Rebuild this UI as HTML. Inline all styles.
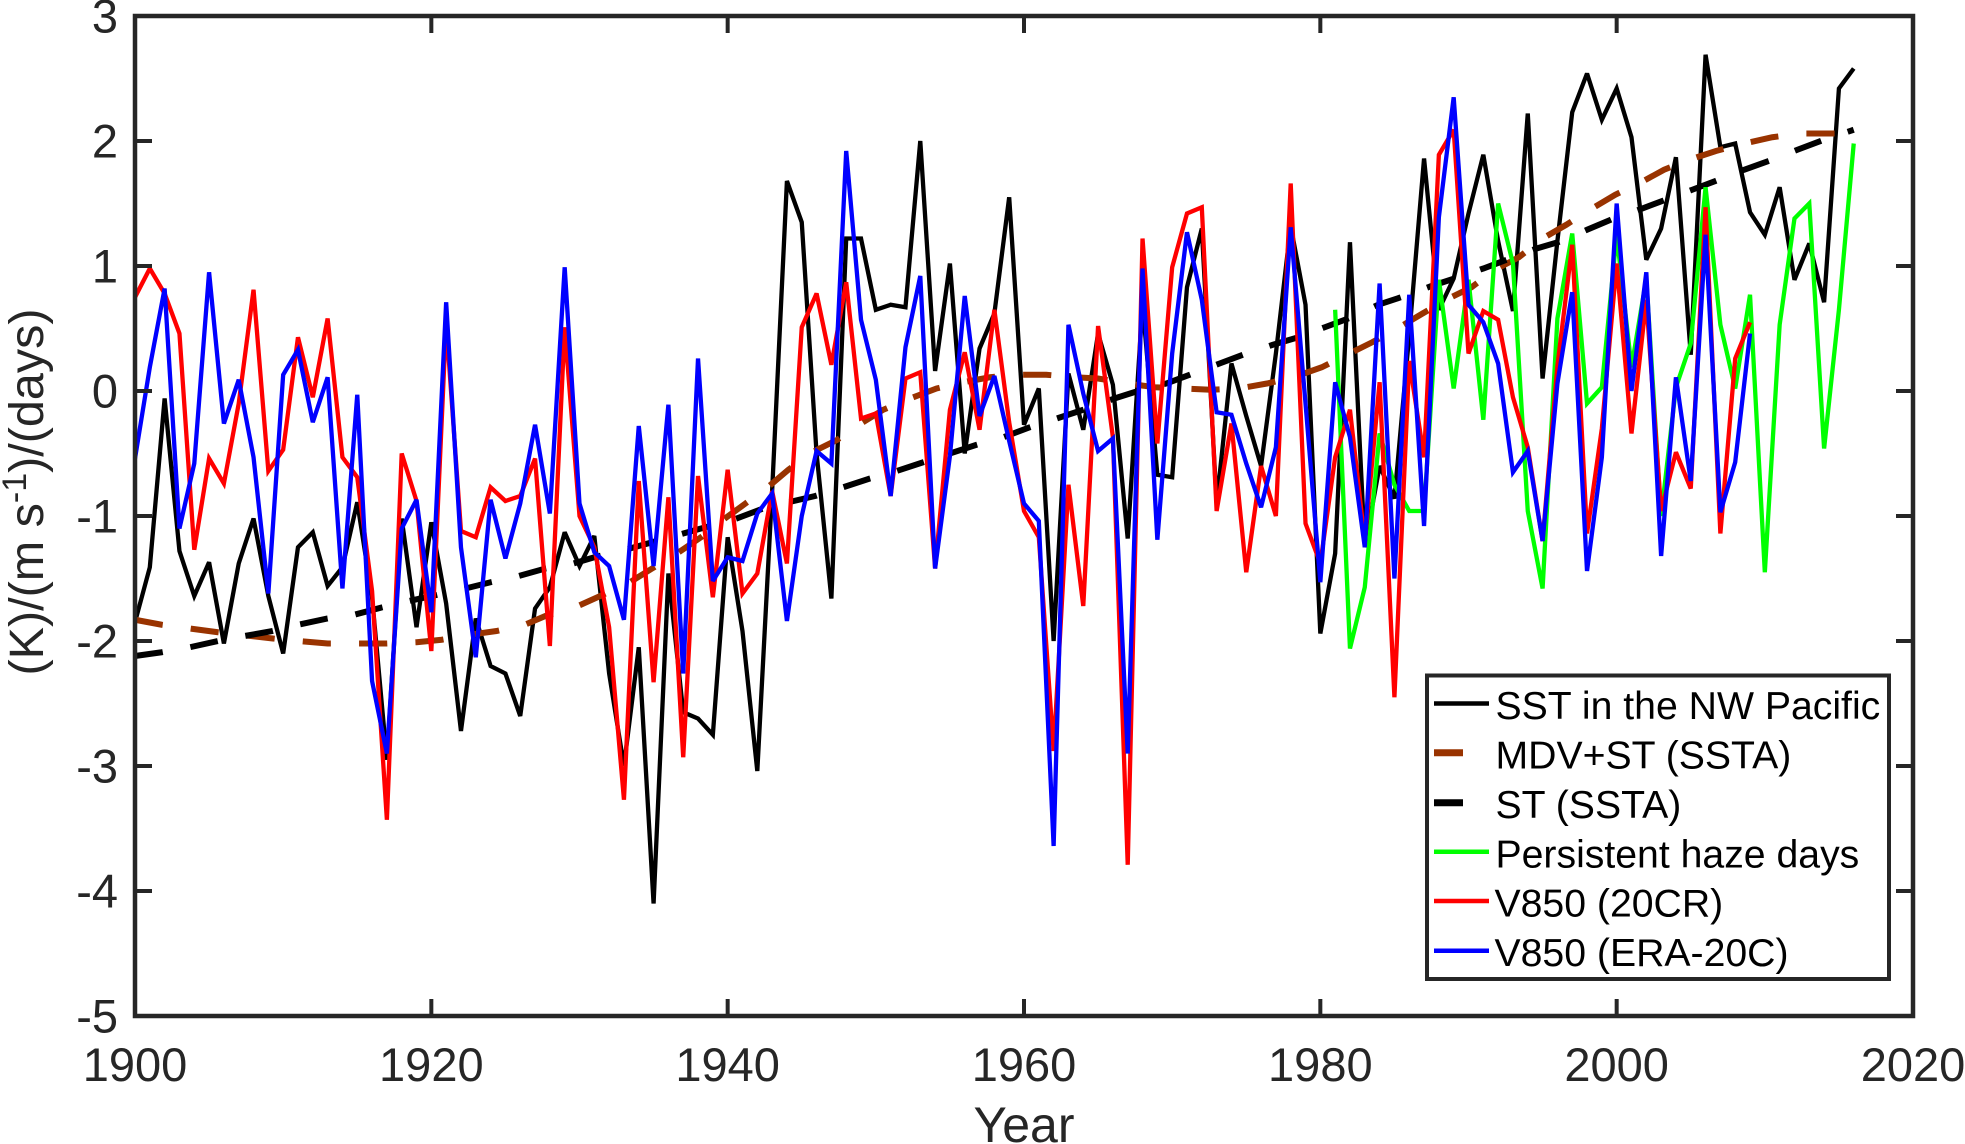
<!DOCTYPE html>
<html lang="en">
<head>
<meta charset="utf-8">
<title>SST, haze days and V850 time series</title>
<style>
html,body{margin:0;padding:0;background:#fff;}
body{width:1965px;height:1144px;overflow:hidden;}
svg{display:block;font-family:"Liberation Sans",Arial,sans-serif;}
</style>
</head>
<body>
<svg id="chart" width="1965" height="1144" viewBox="0 0 1965 1144" xmlns="http://www.w3.org/2000/svg">
  <g id="marks"></g>
  <rect x="135" y="16" width="1778" height="1000" fill="none" stroke="#262626" stroke-width="4.5"/>
  <g id="ticks"></g>
  <text x="1024" y="1142" font-size="50" fill="#262626" text-anchor="middle">Year</text>
  <text transform="translate(43,492) rotate(-90)" font-size="48.5" fill="#262626" text-anchor="middle">(K)/(m s<tspan font-size="34" dy="-17">-1</tspan><tspan dy="17">)/(days)</tspan></text>
  <g>
    <rect x="1427" y="675.5" width="462" height="303.5" fill="#fff" stroke="#262626" stroke-width="4"/>
    <line x1="1434" x2="1489" y1="703.5" y2="703.5" stroke="#000" stroke-width="4.5"/>
    <text x="1495.5" y="719" font-size="39.2" fill="#000">SST in the NW Pacific</text>
    <line x1="1434" x2="1463" y1="752.7" y2="752.7" stroke="#993300" stroke-width="7"/>
    <text x="1495.5" y="768.5" font-size="39.2" fill="#000">MDV+ST (SSTA)</text>
    <line x1="1434" x2="1463" y1="802.7" y2="802.7" stroke="#000" stroke-width="7"/>
    <text x="1495.5" y="818" font-size="39.2" fill="#000">ST (SSTA)</text>
    <line x1="1434" x2="1489" y1="851.7" y2="851.7" stroke="#00ff00" stroke-width="4.5"/>
    <text x="1495.5" y="867.4" font-size="39.2" fill="#000">Persistent haze days</text>
    <line x1="1434" x2="1489" y1="901" y2="901" stroke="#ff0000" stroke-width="4.5"/>
    <text x="1494.5" y="916.7" font-size="39.2" fill="#000">V850 (20CR)</text>
    <line x1="1434" x2="1489" y1="950.7" y2="950.7" stroke="#0000ff" stroke-width="4.5"/>
    <text x="1494.5" y="966" font-size="39.2" fill="#000">V850 (ERA-20C)</text>
  </g>
</svg>
<script>
const xTickLabels = [1900, 1920, 1940, 1960, 1980, 2000, 2020];
const yTickLabels = [3, 2, 1, 0, -1, -2, -3, -4, -5];

const sstStartYear = 1900;
const sstValues = [
  -1.85,-1.41,-0.06,-1.28,-1.64,-1.37,-2.02,-1.38,-1.02,-1.64,
  -2.10,-1.25,-1.13,-1.56,-1.41,-0.89,-1.65,-2.95,-1.02,-1.89,
  -1.05,-1.70,-2.72,-1.82,-2.20,-2.26,-2.60,-1.74,-1.57,-1.13,
  -1.40,-1.16,-2.26,-3.00,-2.05,-4.10,-1.46,-2.57,-2.62,-2.75,
  -1.17,-1.92,-3.04,-0.80,1.68,1.35,-0.50,-1.66,1.22,1.22,
  0.65,0.69,0.67,2.00,0.16,1.02,-0.50,0.34,0.62,1.55,
  -0.27,0.02,-2.00,0.14,-0.31,0.46,0.05,-1.18,0.70,-0.67,
  -0.69,0.83,1.30,-0.90,0.22,-0.20,-0.60,0.30,1.32,0.69,
  -1.94,-1.30,1.19,-1.25,-0.60,-0.86,0.45,1.86,0.65,0.90,
  1.42,1.89,1.20,0.64,2.22,0.10,1.20,2.23,2.54,2.17,
  2.42,2.03,1.05,1.30,1.87,0.29,2.69,1.95,1.98,1.43,
  1.25,1.63,0.89,1.18,0.71,2.42,2.58
];

const hazeStartYear = 1981;
const hazeValues = [
  0.65,-2.06,-1.57,-0.34,-0.75,-0.96,-0.96,0.89,0.02,
  0.89,-0.23,1.50,1.02,-0.96,-1.58,0.58,1.26,-0.10,0.03,
  1.25,0.19,0.90,-1.00,0.03,0.38,1.63,0.53,0.02,0.77,
  -1.45,0.53,1.38,1.50,-0.46,0.65,1.98
];

const v20crStartYear = 1900;
const v20crValues = [
  0.75,0.98,0.78,0.46,-1.27,-0.54,-0.74,-0.10,0.81,-0.64,
  -0.47,0.43,-0.05,0.58,-0.53,-0.69,-1.60,-3.43,-0.50,-0.88,
  -2.08,0.55,-1.12,-1.17,-0.77,-0.88,-0.84,-0.54,-2.04,0.51,
  -1.00,-1.25,-1.89,-3.27,-0.72,-2.33,-0.85,-2.93,-0.68,-1.65,
  -0.63,-1.62,-1.46,-0.80,-1.38,0.51,0.78,0.21,0.87,-0.22,
  -0.18,-0.84,0.10,0.15,-1.42,-0.15,0.31,-0.31,0.65,-0.25,
  -0.96,-1.17,-2.88,-0.75,-1.72,0.52,-0.37,-3.79,1.22,-0.42,
  0.99,1.42,1.47,-0.96,-0.26,-1.45,-0.60,-1.00,1.66,-1.06,
  -1.38,-0.53,-0.15,-1.20,0.07,-2.45,0.24,-0.53,1.89,2.09,
  0.30,0.64,0.57,-0.05,-0.45,-1.20,0.20,1.17,-1.14,-0.30,
  1.02,-0.34,0.73,-0.96,-0.49,-0.78,1.47,-1.14,0.26,0.55
];

const veraStartYear = 1900;
const veraValues = [
  -0.54,0.19,0.82,-1.10,-0.58,0.95,-0.26,0.09,-0.53,-1.62,
  0.13,0.33,-0.25,0.11,-1.58,-0.03,-2.32,-2.90,-1.10,-0.87,
  -1.77,0.71,-1.25,-2.13,-0.87,-1.34,-0.90,-0.27,-0.98,0.99,
  -0.90,-1.29,-1.40,-1.83,-0.28,-1.40,-0.11,-2.26,0.26,-1.52,
  -1.33,-1.36,-0.98,-0.82,-1.84,-1.00,-0.48,-0.58,1.92,0.57,
  0.09,-0.84,0.35,0.92,-1.42,-0.52,0.76,-0.20,0.12,-0.40,
  -0.90,-1.04,-3.64,0.53,-0.02,-0.48,-0.38,-2.90,0.98,-1.19,
  0.30,1.27,0.73,-0.17,-0.19,-0.58,-0.93,-0.45,1.31,-0.10,
  -1.53,0.07,-0.37,-1.25,0.86,-1.50,0.77,-1.08,1.39,2.35,
  0.69,0.55,0.22,-0.65,-0.48,-1.20,0.06,0.79,-1.44,-0.53,
  1.50,0.00,0.95,-1.32,0.11,-0.72,1.25,-0.97,-0.57,0.46
];

const mdvYears = [
  1900,1901.8,1905.6,1909.3,1911,1913,1917,1919,1920.7,1922.6,1924.4,1926.3,1927.7,1929.9,1931.4,
  1933.4,1934.9,1936.7,1938.2,1939.7,1941.2,1942.7,1944.1,1945.7,1947.4,1949,1950.5,1952.3,1954.1,
  1955.9,1957.7,1959.6,1961.5,1963.5,1965,1967,1968.8,1970.7,1972.6,1974.5,1976.4,1978.2,1980.1,
  1981.8,1983.5,1985.2,1986.9,1988.5,1990.2,1991.8,1993.4,1995,1996.6,1998.2,1999.9,2001.5,2003.2,
  2004.9,2006.7,2008.6,2010.5,2012.4,2014.2,2016
];
const mdvValues = [
  -1.83,-1.87,-1.93,-1.98,-2.00,-2.02,-2.02,-2.01,-1.99,-1.95,-1.92,-1.87,-1.80,-1.72,-1.64,
  -1.53,-1.42,-1.29,-1.17,-1.03,-0.90,-0.77,-0.63,-0.49,-0.39,-0.26,-0.15,-0.06,0.02,
  0.07,0.11,0.13,0.13,0.11,0.10,0.06,0.03,0.02,0.01,0.02,0.06,0.11,0.19,
  0.29,0.39,0.50,0.62,0.73,0.83,0.97,1.07,1.22,1.33,1.45,1.57,1.66,1.77,
  1.85,1.92,1.98,2.03,2.06,2.06,2.06
];

const stYears = [
  1900,1901.8,1903.7,1905.6,1907.4,1909.3,1911,1913,1914.8,1916.7,1918.5,1922.3,1924,1925.9,1927.7,1929.6,1931,
  1933.4,1937,1938.8,1940.6,1942.4,1944.1,1945.9,1947.8,1949.6,1951.4,1953.2,1955,1956.8,1958.6,1960.4,1962.2,1964,
  1966.1,1967.7,1969.6,1971.4,1973.2,1975,1976.8,1978.5,1980.3,1982.1,1983.9,1985.7,1987.5,1989.3,1991,1992.8,
  1994.6,1996.3,1998,1999.8,2001.5,2003.3,2005.1,2006.9,2008.6,2010.5,2012.2,2014,2016
];
const stValues = [
  -2.12,-2.09,-2.05,-2.00,-1.96,-1.92,-1.87,-1.82,-1.79,-1.73,-1.68,-1.58,-1.53,-1.48,-1.42,-1.38,-1.33,
  -1.26,-1.14,-1.08,-1.02,-0.94,-0.89,-0.84,-0.77,-0.70,-0.64,-0.57,-0.50,-0.43,-0.37,-0.29,-0.22,-0.15,
  -0.06,0.00,0.06,0.14,0.22,0.30,0.37,0.43,0.51,0.59,0.69,0.76,0.84,0.91,0.98,1.06,
  1.14,1.20,1.29,1.38,1.45,1.53,1.61,1.69,1.77,1.85,1.93,2.01,2.09
];

const plotLeft = 135, plotRight = 1913, plotTop = 16, plotBottom = 1016;
const xMin = 1900, xMax = 2020, yMin = -5, yMax = 3;
const NS = 'http://www.w3.org/2000/svg';

function xScale(year) {
  return plotLeft + (year - xMin) / (xMax - xMin) * (plotRight - plotLeft);
}
function yScale(value) {
  return plotTop + (yMax - value) / (yMax - yMin) * (plotBottom - plotTop);
}
function pointsFromAnnual(values, startYear) {
  return values.map(function (v, i) {
    return xScale(startYear + i).toFixed(2) + ',' + yScale(v).toFixed(2);
  }).join(' ');
}
function pointsFromPairs(years, values) {
  return years.map(function (yr, i) {
    return xScale(yr).toFixed(2) + ',' + yScale(values[i]).toFixed(2);
  }).join(' ');
}
function makeLine(parent, points, color, width, dash) {
  const el = document.createElementNS(NS, 'polyline');
  el.setAttribute('points', points);
  el.setAttribute('fill', 'none');
  el.setAttribute('stroke', color);
  el.setAttribute('stroke-width', width);
  el.setAttribute('stroke-linejoin', 'miter');
  el.setAttribute('stroke-miterlimit', '3');
  if (dash) el.setAttribute('stroke-dasharray', dash);
  parent.appendChild(el);
  return el;
}

const marks = document.getElementById('marks');
const sstLine = makeLine(marks, pointsFromAnnual(sstValues, sstStartYear), '#000000', 4.3);


const mdvLine = makeLine(marks, pointsFromPairs(mdvYears, mdvValues), '#993300', 6, '28.2 28.2');


const stLine = makeLine(marks, pointsFromPairs(stYears, stValues), '#000000', 6, '28.05 28.05');


const hazeLine = makeLine(marks, pointsFromAnnual(hazeValues, hazeStartYear), '#00ff00', 4.3);


const v20crLine = makeLine(marks, pointsFromAnnual(v20crValues, v20crStartYear), '#ff0000', 4.3);


const veraLine = makeLine(marks, pointsFromAnnual(veraValues, veraStartYear), '#0000ff', 4.3);



const tickGroup = document.getElementById('ticks');
const tickLen = 17;
function tickSegment(x1, y1, x2, y2) {
  const t = document.createElementNS(NS, 'line');
  t.setAttribute('x1', x1);
  t.setAttribute('y1', y1);
  t.setAttribute('x2', x2);
  t.setAttribute('y2', y2);
  t.setAttribute('stroke', '#262626');
  t.setAttribute('stroke-width', '4');
  
  
  tickGroup.appendChild(t);
}
function tickText(x, y, label, anchor) {
  const t = document.createElementNS(NS, 'text');
  t.setAttribute('x', x);
  t.setAttribute('y', y);
  t.setAttribute('font-size', '47');
  t.setAttribute('fill', '#262626');
  t.setAttribute('text-anchor', anchor);
  
  
  t.textContent = label;
  tickGroup.appendChild(t);
}
xTickLabels.forEach(function (yr) {
  const x = xScale(yr);
  if (yr > xMin && yr < xMax) {
    tickSegment(x, plotBottom, x, plotBottom - tickLen);
    tickSegment(x, plotTop, x, plotTop + tickLen);
  }
  tickText(x, 1081, String(yr), 'middle');
});
yTickLabels.forEach(function (v) {
  const y = yScale(v);
  if (v > yMin && v < yMax) {
    tickSegment(plotLeft, y, plotLeft + tickLen, y);
    tickSegment(plotRight, y, plotRight - tickLen, y);
  }
  tickText(118, y + 16.5, String(v), 'end');
});
</script>
</body>
</html>
